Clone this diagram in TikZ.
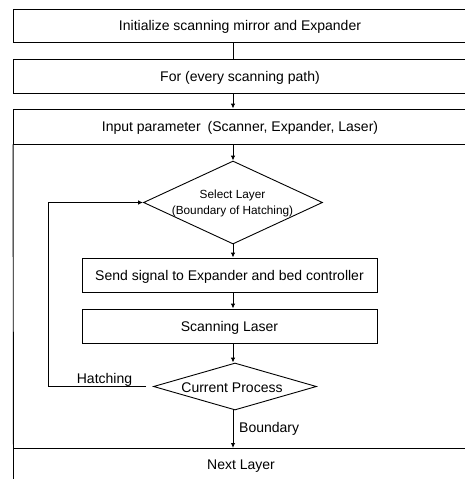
\documentclass[tikz,border=0pt]{standalone}
\usepackage{fontspec}
\setmainfont{Liberation Sans}
\usetikzlibrary{arrows.meta,shapes.geometric}
\begin{document}
\begin{tikzpicture}[x=1pt,y=-1pt,
  ln/.style={draw=black, line width=0.9pt},
  arr/.style={ln, -{Latex[length=5pt,width=4.5pt]}},
  maintext/.style={font=\fontsize{14}{16}\selectfont, text height=13pt, text depth=3pt, inner sep=0pt},
  band/.style={ln, maintext, minimum width=453pt},
  stepbox/.style={ln, maintext, minimum width=295pt, minimum height=34pt},
  decision/.style={ln, diamond, inner sep=0pt}]
\useasboundingbox (0,0) rectangle (465,479);
\clip (0,0) rectangle (465,479);
% bands
\node[band, minimum height=33pt] (init) at (240,25.5) {Initialize scanning mirror and Expander};
\node[band, minimum height=34pt] (for) at (240,76) {For (every scanning path)};
\node[band, minimum height=35pt] (inp) at (240,126.5) {Input parameter\enspace(Scanner, Expander, Laser)};
\coordinate (bl) at (13.5,482);
\coordinate (nlw) at (13.5,448);
\coordinate (nle) at (470,448);
\draw[ln] (inp.south west) -- (bl);
\draw[ln] (nlw) -- (nle);
\node[maintext] (next) at (241,464) {Next Layer};
% decisions and steps
\node[decision, minimum width=179pt, minimum height=83pt] (sel) at (233,202.5) {};
\node[font=\fontsize{11.8}{16}\selectfont, align=center, inner sep=0pt] (selt) at (232.5,203) {Select Layer\\(Boundary of Hatching)};
\node[stepbox] (send) at (229.5,275) {Send signal to Expander and bed controller};
\node[stepbox] (scan) at (229.5,326) {Scanning Laser};
\node[decision, minimum width=163pt, minimum height=47pt] (cp) at (235,386.5) {};
\node[maintext] (cpt) at (232,387) {Current Process};
\coordinate (lp) at (48.5,386.5);
% connectors
\draw[ln] (init.south -| sel.north) -- (for.north -| sel.north);
\draw[arr] (for.south -| sel.north) -- (inp.north -| sel.north);
\draw[arr] (inp.south -| sel.north) -- (sel.north);
\draw[arr] (sel.south) -- (sel.south |- send.north);
\draw[arr] (send.south -| sel.north) -- (scan.north -| sel.north);
\draw[arr] (scan.south -| sel.north) -- (sel.north |- cp.north);
\draw[arr] (sel.north |- cp.south) -- (sel.north |- nlw);
\draw[arr] ([xshift=-7pt]cp.west) -- (lp) |- (sel.west);
% labels
\node[maintext] (hat) at (104.5,378.3) {Hatching};
\node[maintext, anchor=west] (bnd) at (239,427.7) {Boundary};
\end{tikzpicture}
\end{document}
